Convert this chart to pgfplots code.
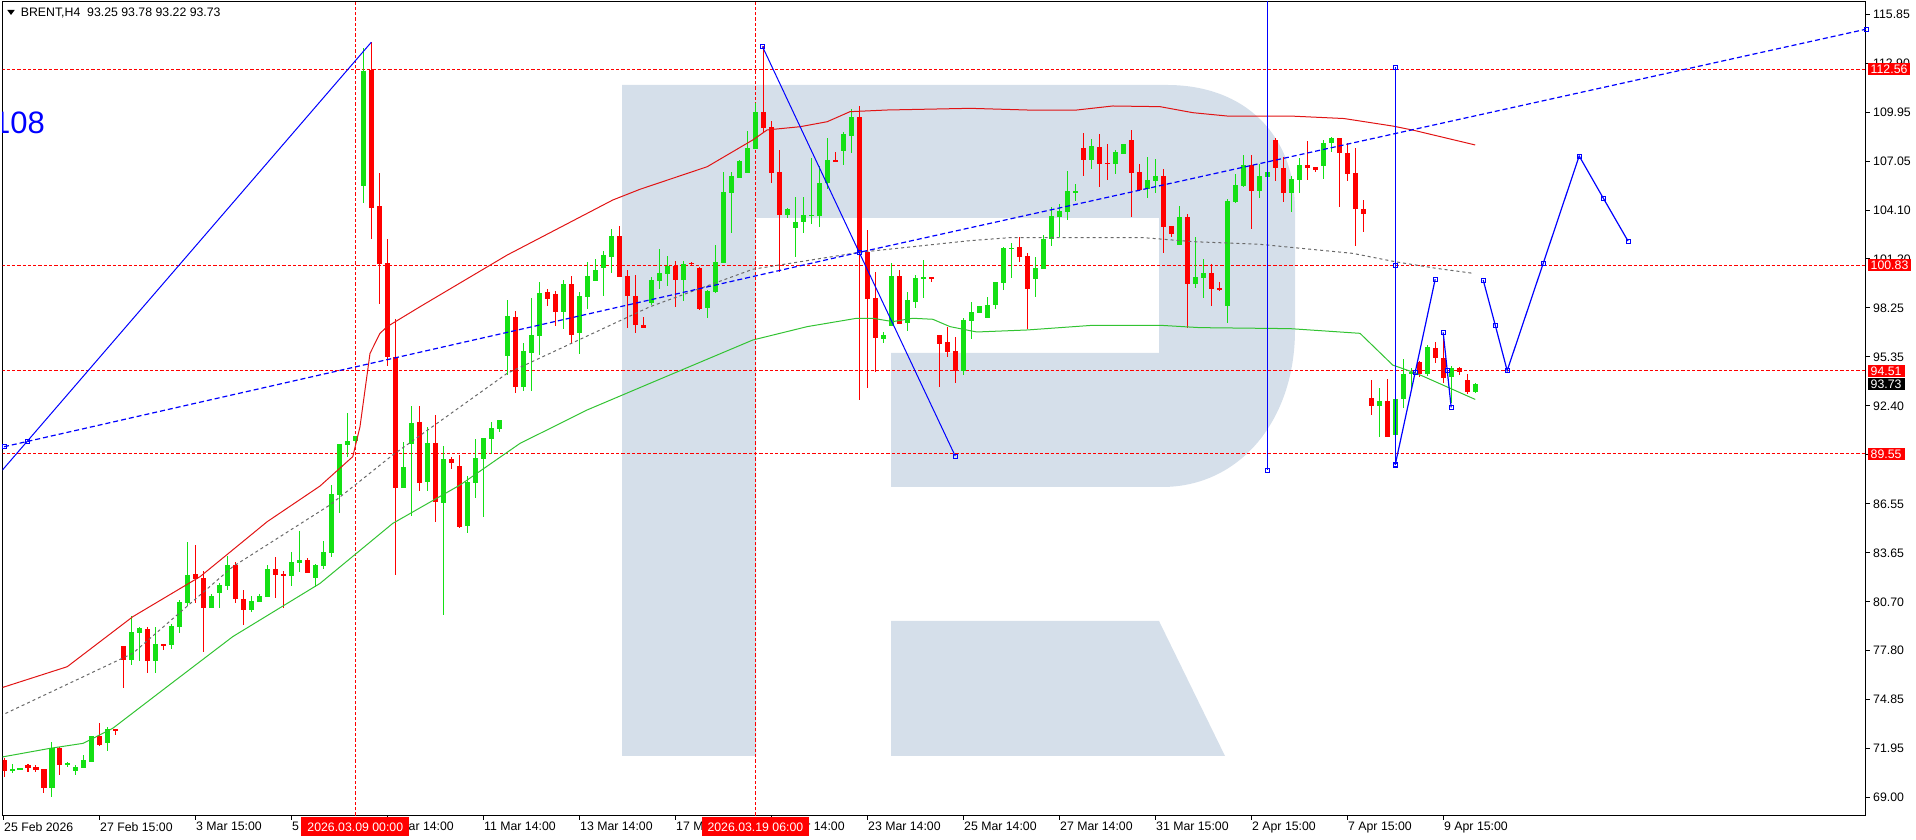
\documentclass[border=0pt]{standalone}
\usepackage{fontspec}
\setmainfont{Liberation Sans}
\usepackage{pgfplots}
\usepackage{pgfplotstable}
\pgfplotsset{compat=1.18}

\definecolor{cgreen}{RGB}{20,224,20}
\definecolor{cred}{RGB}{255,0,0}
\definecolor{envred}{RGB}{225,20,20}
\definecolor{envgreen}{RGB}{50,195,50}
\definecolor{envgray}{RGB}{105,105,105}
\definecolor{wmark}{RGB}{213,223,234}
\definecolor{fblue}{RGB}{0,0,255}

% BRENT H4 candles: bar index, open, high, low, close
\pgfplotstableread{
i o h l c
0 71.25 71.35 70.22 70.62
1 70.62 71.02 70.50 70.74
2 70.70 70.76 70.68 70.74
3 70.94 71.02 70.54 70.78
4 70.82 70.94 70.54 70.66
5 70.72 70.72 69.30 69.58
6 69.58 72.33 69.06 71.95
7 71.95 72.05 70.38 70.96
8 70.98 71.16 70.86 71.10
9 70.58 70.96 70.34 70.82
10 70.80 71.55 70.78 71.25
11 71.15 72.69 71.15 72.69
12 72.69 73.45 72.09 72.15
13 72.29 73.21 71.81 73.09
14 73.13 73.13 72.73 73.01
15 78.07 78.07 75.54 77.23
16 77.23 79.86 76.93 78.91
17 78.87 79.23 77.19 79.15
18 79.07 79.19 76.44 77.19
19 77.19 79.23 76.48 78.19
20 78.19 78.19 77.83 78.07
21 78.13 79.38 77.87 79.27
22 79.23 80.82 78.87 80.70
23 80.66 84.31 80.46 82.31
24 82.35 84.11 80.62 82.09
25 82.13 82.57 77.73 80.36
26 80.34 81.18 80.34 81.06
27 81.26 81.82 80.36 81.72
28 81.68 83.45 81.42 82.91
29 82.91 83.11 80.62 80.86
30 80.86 81.42 79.35 80.22
31 80.22 81.06 80.08 80.76
32 80.72 81.18 80.72 81.06
33 81.02 82.91 81.02 82.67
34 82.67 83.41 80.96 82.33
35 82.39 82.55 80.36 82.27
36 82.27 83.69 81.68 83.09
37 83.05 84.92 82.49 83.21
38 83.21 83.33 82.45 82.45
39 82.15 82.97 81.62 82.89
40 82.87 84.35 82.67 83.67
41 83.65 87.69 83.41 87.18
42 87.09 90.12 86.00 90.12
43 90.08 92.02 89.39 90.32
44 90.32 90.62 90.18 90.62
45 105.59 113.80 104.57 112.44
46 112.50 114.16 102.38 104.27
47 104.37 106.35 98.51 100.90
48 100.98 102.38 94.83 95.37
49 95.37 97.62 82.31 87.53
50 87.53 90.24 87.53 88.79
51 90.14 92.42 85.84 91.42
52 91.48 92.42 87.35 87.83
53 87.89 91.14 87.35 90.22
54 90.22 91.88 85.50 86.70
55 86.64 90.02 79.92 89.27
56 89.27 89.39 88.63 89.03
57 88.83 89.49 85.10 85.20
58 85.26 88.23 84.84 87.89
59 87.83 90.44 86.90 89.33
60 89.25 90.52 85.80 90.52
61 90.44 91.48 89.55 91.08
62 91.02 91.58 90.84 91.58
63 95.40 98.75 94.27 97.80
64 97.72 98.09 93.21 93.57
65 93.57 96.16 93.33 95.70
66 95.60 98.89 93.33 96.66
67 96.60 99.83 95.46 99.15
68 99.21 99.39 98.41 98.79
69 99.09 99.29 97.20 98.05
70 98.05 99.95 97.02 99.71
71 99.71 100.19 96.16 96.66
72 96.76 99.23 95.52 98.99
73 98.95 101.02 98.23 100.19
74 99.89 101.18 99.89 100.55
75 100.69 101.70 99.01 101.44
76 101.34 103.02 100.39 102.58
77 102.58 103.18 100.15 100.15
78 100.19 100.55 97.06 98.99
79 98.99 100.25 96.76 97.26
80 97.26 97.76 97.06 97.06
81 98.59 100.15 98.45 99.95
82 99.91 101.78 99.39 100.39
83 100.31 101.38 99.59 100.79
84 100.79 101.08 98.35 99.95
85 99.95 101.08 98.71 100.90
86 100.98 101.04 100.84 100.90
87 100.65 100.75 98.15 98.23
88 98.25 99.35 97.66 99.29
89 99.25 102.04 99.15 101.02
90 100.98 106.40 100.98 105.21
91 105.17 106.40 102.74 106.17
92 106.07 107.12 106.07 107.06
93 106.36 108.88 106.36 107.82
94 107.80 110.51 107.80 109.99
95 109.99 113.94 108.76 109.05
96 109.07 109.45 105.77 106.36
97 106.38 107.72 100.45 103.83
98 103.83 104.27 103.63 104.19
99 103.08 104.93 101.30 103.44
100 103.44 104.93 102.78 103.83
101 103.81 107.26 103.28 103.85
102 103.79 106.76 103.14 105.73
103 105.73 108.42 105.37 107.12
104 107.12 107.62 107.02 107.02
105 107.68 108.82 106.82 108.68
106 108.56 110.15 107.56 109.67
107 109.67 110.35 92.77 101.64
108 101.64 102.94 93.47 98.83
109 98.85 100.41 94.47 96.50
110 96.44 96.86 96.16 96.66
111 97.22 100.94 97.22 100.19
112 100.19 100.55 97.32 97.32
113 97.36 99.21 96.92 98.75
114 98.65 100.25 98.29 100.05
115 100.03 101.14 98.89 100.11
116 100.11 100.11 99.85 100.01
117 96.66 96.66 93.57 96.12
118 96.22 97.16 95.36 95.66
119 95.70 96.56 93.81 94.53
120 94.53 97.66 94.27 97.56
121 97.52 98.65 96.40 98.04
122 98.00 98.39 98.00 98.39
123 97.70 98.95 97.70 98.45
124 98.45 99.83 98.21 99.83
125 99.79 101.94 99.35 101.88
126 101.82 102.14 100.09 101.86
127 101.92 102.54 101.02 101.34
128 101.38 101.54 97.02 99.43
129 100.01 101.30 98.95 100.65
130 100.61 102.64 100.61 102.40
131 102.38 104.33 102.00 103.77
132 103.73 104.47 102.50 104.07
133 104.03 106.47 103.54 105.27
134 105.17 105.69 104.69 105.27
135 107.82 108.76 106.17 107.12
136 107.12 108.36 106.59 107.96
137 107.88 108.68 105.53 106.88
138 106.94 108.08 105.93 106.90
139 106.88 107.72 106.29 107.58
140 107.48 108.08 107.48 108.08
141 108.32 108.92 103.70 106.37
142 106.43 106.88 105.29 105.33
143 105.39 107.32 104.85 105.93
144 105.87 107.16 105.17 106.17
145 106.17 106.59 101.58 103.14
146 103.18 103.18 102.50 102.70
147 102.04 104.37 102.04 103.72
148 103.72 103.90 97.10 99.73
149 99.69 102.54 99.45 100.11
150 100.09 101.20 98.89 100.35
151 100.37 100.89 98.41 99.41
152 99.45 99.85 99.29 99.35
153 98.39 104.77 97.36 104.67
154 104.63 106.29 104.53 105.63
155 105.57 107.42 105.49 106.82
156 106.82 107.42 103.00 105.29
157 105.29 106.88 104.87 106.17
158 106.13 106.43 106.13 106.43
159 108.32 108.42 105.89 106.66
160 106.66 107.32 104.63 105.17
161 105.17 106.16 104.03 105.96
162 105.92 107.22 105.17 106.82
163 106.82 108.27 105.92 106.66
164 106.70 106.70 106.42 106.52
165 106.78 108.31 105.98 108.12
166 108.16 108.51 107.58 108.41
167 108.41 108.41 104.33 107.52
168 107.52 108.16 105.88 106.26
169 106.32 107.82 102.00 104.17
170 104.17 104.73 102.83 103.87
171 92.87 93.97 91.87 92.43
172 92.43 93.47 90.58 92.71
173 92.71 94.01 90.54 90.58
174 90.68 92.81 90.50 92.81
175 92.83 95.22 92.27 94.33
176 94.33 94.67 93.47 94.47
177 95.02 95.12 94.17 94.33
178 94.33 96.06 94.21 95.92
179 95.86 96.26 94.96 95.26
180 95.26 96.56 93.77 94.11
181 94.13 94.81 92.57 94.67
182 94.67 94.77 94.27 94.43
183 93.97 94.33 93.13 93.27
184 93.25 93.78 93.22 93.73
}\candles

\pgfplotsset{
  candle/.style={draw=none, mark=none, forget plot,
    unbounded coords=discard,
    error bars/.cd, y dir=both, y explicit, error mark=none,
    error bar style={draw=#1}},
}

\begin{document}
\begin{tikzpicture}
% watermark logo, pixel coordinates of the screenshot
\begin{scope}[x=1pt,y=-1pt,shift={(-2.5pt,816pt)}]
  \fill[wmark] (622,85) -- (1167,85) .. controls (1245,85) and (1295,135) .. (1295,210)
    -- (1295,330) .. controls (1295,420) and (1240,487) .. (1162,487)
    -- (891,487) -- (891,353) -- (1159,353) -- (1159,218) -- (756,218)
    -- (756,756) -- (622,756) -- cycle;
  \fill[wmark] (891,621) -- (1159,621) -- (1225,756) -- (891,756) -- cycle;
\end{scope}

\begin{axis}[
    scale only axis, width=1863.5pt, height=814pt,
    xmin=-0.1875, xmax=232.75, ymin=67.906, ymax=116.567,
    clip mode=individual,
    axis line style={black, line width=1pt},
    tick align=outside, major tick length=4pt,
    tick style={black, line width=0.8pt},
    xtick pos=bottom, ytick pos=right, yticklabel pos=right,
    xtick={-0.125,11.875,23.875,35.875,47.875,59.875,71.875,83.875,95.875,107.875,119.875,131.875,143.875,155.875,167.875,179.875},
    xticklabels={25 Feb 2026,27 Feb 15:00,3 Mar 15:00,5 Mar 15:00,9 Mar 14:00,11 Mar 14:00,13 Mar 14:00,17 Mar 14:00,19 Mar 14:00,23 Mar 14:00,25 Mar 14:00,27 Mar 14:00,31 Mar 15:00,2 Apr 15:00,7 Apr 15:00,9 Apr 15:00},
    ytick={69,71.928125,74.85625,77.784375,80.7125,83.640625,86.56875,89.496875,92.425,95.353125,98.28125,101.209375,104.1375,107.065625,109.99375,112.921875,115.85},
    yticklabels={69.00,71.95,74.85,77.80,80.70,83.65,86.55,89.50,92.40,95.35,98.25,101.20,104.10,107.05,109.95,112.90,115.85},
    tick label style={font=\fontsize{12.3}{14}\selectfont, inner sep=0pt},
    xticklabel style={anchor=north west, xshift=1pt, yshift=-2pt},
    yticklabel style={anchor=west, xshift=3pt},
    /pgf/number format/assume math mode=true,
  ]
  % horizontal levels
  \addplot[cred, line width=1pt, dash pattern=on 3.3pt off 2pt, forget plot] coordinates {(-1,112.56) (234,112.56)};
  \addplot[cred, line width=1pt, dash pattern=on 3.3pt off 2pt, forget plot] coordinates {(-1,100.83) (234,100.83)};
  \addplot[cred, line width=1pt, dash pattern=on 3.3pt off 2pt, forget plot] coordinates {(-1,94.51) (234,94.51)};
  \addplot[cred, line width=1pt, dash pattern=on 3.3pt off 2pt, forget plot] coordinates {(-1,89.55) (234,89.55)};
  % vertical time lines
  \addplot[cred, line width=1pt, dash pattern=on 3.3pt off 2pt, forget plot] coordinates {(43.9,60) (43.9,120)};
  \addplot[cred, line width=1pt, dash pattern=on 3.3pt off 2pt, forget plot] coordinates {(93.9,60) (93.9,120)};

  % candles: wicks and bodies
  \addplot[candle={cred, line width=1pt}]
    table[x=i, y expr={\thisrow{c}<\thisrow{o} ? (\thisrow{h}+\thisrow{l})/2 : nan},
      y error expr={(\thisrow{h}-\thisrow{l})/2}] {\candles};
  \addplot[candle={cred, line width=5pt}]
    table[x=i, y expr={\thisrow{c}<\thisrow{o} ? (\thisrow{o}+\thisrow{c})/2 : nan},
      y error expr={max(abs(\thisrow{o}-\thisrow{c})/2,0.03)}] {\candles};
  \addplot[candle={cgreen, line width=1pt}]
    table[x=i, y expr={\thisrow{c}>=\thisrow{o} ? (\thisrow{h}+\thisrow{l})/2 : nan},
      y error expr={(\thisrow{h}-\thisrow{l})/2}] {\candles};
  \addplot[candle={cgreen, line width=5pt}]
    table[x=i, y expr={\thisrow{c}>=\thisrow{o} ? (\thisrow{o}+\thisrow{c})/2 : nan},
      y error expr={max(abs(\thisrow{o}-\thisrow{c})/2,0.03)}] {\candles};

  % envelope channel
  \addplot[envred, line width=1pt, forget plot] coordinates {
    (-0.5,75.54) (7.9,76.83) (16.1,79.82) (24.5,82.21) (32.9,85.50) (39.5,87.63)
    (43.6,89.39) (44.5,91.18) (45.75,95.56) (47,96.76) (47.9,97.16) (52,98.35)
    (62.9,101.44) (76.1,104.73) (79.5,105.37) (87.9,106.72) (93.6,108.32)
    (95.4,108.92) (99.5,109.11) (102.9,109.41) (105.75,110.01) (110.4,110.11)
    (120.75,110.21) (127.9,110.11) (134.1,110.11) (138.6,110.35) (144.5,110.31)
    (148.6,109.95) (152.9,109.75) (160.75,109.75) (167.5,109.6) (173.6,109.15)
    (176.1,108.91) (183.9,108.02)};
  \addplot[envgreen, line width=1pt, forget plot] coordinates {
    (-0.5,71.41) (5.75,71.95) (9.9,72.25) (13.6,73.15) (20.4,75.64) (28.6,78.63)
    (39.5,81.81) (48.6,85.40) (57,87.69) (64.5,90.18) (72.9,92.18) (80.75,93.77)
    (93.6,96.36) (100.4,97.16) (106.6,97.66) (108.6,97.66) (111.1,97.46)
    (113.6,97.66) (116.1,97.60) (118.25,97.16) (120.75,96.92) (121.6,96.84)
    (127.9,96.96) (136.1,97.24) (144.5,97.24) (149.5,97.10) (160.75,97.04)
    (169.5,96.76) (173.6,94.86) (176.6,94.36) (183.9,92.81)};
  \addplot[envgray, line width=1pt, dash pattern=on 3pt off 3pt, forget plot] coordinates {
    (-0.5,73.88) (16.1,77.63) (28.6,82.81) (40.75,86.50) (48.6,89.49) (62.9,94.37)
    (80.75,98.35) (93.6,100.59) (106.9,101.6) (120.75,102.30) (125.75,102.48)
    (142.4,102.48) (148.6,102.24) (157,102.08) (168.6,101.54) (173.9,101.04)
    (179.1,100.64) (183.75,100.34)};

  % trend line
  \addplot[fblue, line width=1.2pt, dash pattern=on 5pt off 3pt, mark=square, mark size=2pt,
    mark options={solid, fill=white, line width=0.8pt}, forget plot] coordinates {
    (0,89.98) (2.96,90.30) (106.9,101.60) (232.75,114.94)};
  % wave lines
  \addplot[fblue, line width=1pt, mark=square, mark size=2pt, mark indices={2},
    mark options={fill=white, line width=0.8pt}, forget plot] coordinates {
    (-1,88.14) (45.91,114.16)};
  \addplot[fblue, line width=1pt, mark=square, mark size=2pt,
    mark options={fill=white, line width=0.8pt}, forget plot] coordinates {
    (94.8,113.91) (106.9,101.60) (118.9,89.43)};
  \addplot[fblue, line width=1.2pt, mark=square, mark size=2pt, mark indices={2,3},
    mark options={fill=white, line width=0.8pt}, forget plot] coordinates {
    (157.9,117) (157.9,112.67) (157.9,88.57)};
  \addplot[fblue, line width=1.2pt, mark=square, mark size=2pt,
    mark options={fill=white, line width=0.8pt}, forget plot] coordinates {
    (173.9,112.67) (173.9,100.85) (173.9,88.92)};
  % forecast path
  \addplot[fblue, line width=1.2pt, mark=square, mark size=2pt,
    mark options={fill=white, line width=0.8pt}, forget plot] coordinates {
    (173.9,88.89) (176.4,94.43) (178.9,99.99)};
  \addplot[fblue, line width=1.2pt, mark=square, mark size=2pt,
    mark options={fill=white, line width=0.8pt}, forget plot] coordinates {
    (179.9,96.82) (180.4,94.56) (180.9,92.33)};
  \addplot[fblue, line width=1.2pt, mark=square, mark size=2pt,
    mark options={fill=white, line width=0.8pt}, forget plot] coordinates {
    (184.9,99.95) (186.4,97.26) (187.9,94.53) (192.4,100.94) (196.9,107.36)
    (199.9,104.85) (203.0,102.28)};
\end{axis}

% labels on top, pixel coordinates of the screenshot
\begin{scope}[x=1pt,y=-1pt,shift={(-2.5pt,816pt)}, every node/.style={font=\fontsize{12.3}{14}\selectfont}]
  \begin{scope}
    \clip (2.5,2) rectangle (1866,816);
    \node[anchor=base west, inner sep=0pt, text=fblue, font=\fontsize{31}{31}\selectfont] at (-7,133.3) {108};
  \end{scope}
  \fill (7.3,10) -- (14.7,10) -- (11,15) -- cycle;
  \node[anchor=base west, inner sep=0pt] at (20.7,16.7) {BRENT,H4\ \ 93.25 93.78 93.22 93.73};
  \foreach \p in {112.56,100.83,94.51,89.55}
    \node[anchor=west, fill=cred, text=white, inner xsep=3pt, inner ysep=0pt, minimum height=12.5pt]
      at (1867.5,{14+(115.85-\p)/0.05978}) {\p};
  \node[anchor=west, fill=black, text=white, inner xsep=3pt, inner ysep=0pt, minimum height=12.5pt]
    at (1867.5,{14+(115.85-93.73)/0.05978}) {93.73};
  \node[fill=cred, text=white, inner xsep=6pt, inner ysep=0pt, minimum height=19pt] at (355.3,827) {2026.03.09 00:00};
  \node[fill=cred, text=white, inner xsep=6pt, inner ysep=0pt, minimum height=19pt] at (755.4,827) {2026.03.19 06:00};
\end{scope}
\pgfresetboundingbox
\useasboundingbox (-2.5pt,-24pt) rectangle (1913.5pt,816pt);
\end{tikzpicture}
\end{document}
